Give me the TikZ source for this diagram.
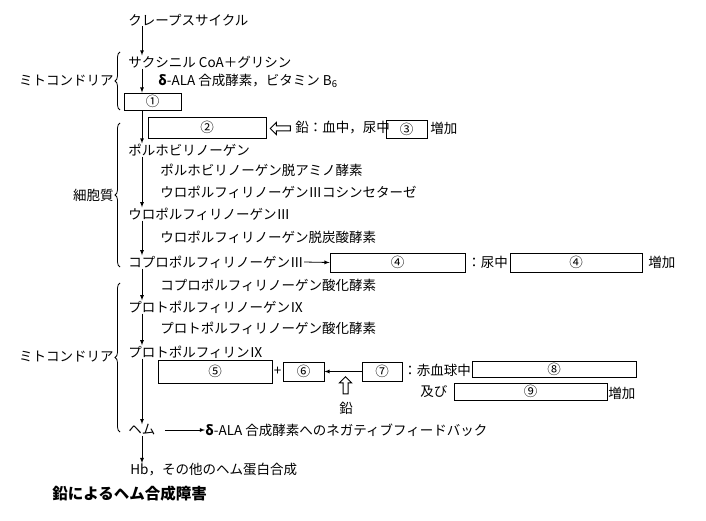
\documentclass[tikz,border=0pt]{standalone}
\usepackage{fontspec}
\setmainfont{Noto Sans CJK JP}
\usepackage{tikz}
\usetikzlibrary{shapes.arrows}
\usetikzlibrary{decorations.pathreplacing}

\begin{document}
\begin{tikzpicture}[x=1pt, y=-1pt, >=latex, line width=0.8pt,
      font=\fontsize{13.5}{16}\selectfont,
      txt/.style={anchor=west, inner sep=0},
      blank/.style={draw, rectangle, inner sep=0},
      region/.style={decorate, decoration={brace, amplitude=5pt}},
      hollow/.style={draw, single arrow, inner sep=2pt, line width=1pt, minimum width=11,
        single arrow head extend=3.5pt, single arrow head indent=0pt}
    ]
    \useasboundingbox (0,0) rectangle (706,521);
    \coordinate (spine) at (142,0);

    \node[txt] (kreb) at (128,20) {クレープスサイクル};
    \node[txt] (succ) at (128,62) {サクシニル CoA＋グリシン};
    \node[txt] (alas) at (158,81) {{\bfseries δ}-ALA 合成酵素，ビタミン B\textsubscript{6}};
    \node[blank, minimum width=57, minimum height=17] (b1) at (152.5,101.5) {①};

    \node[blank, minimum width=118, minimum height=21] (b2) at (207,127.5) {②};
    \node[hollow, shape border rotate=180, minimum height=20] (pb1) at (281.5,128.5) {};
    \node[txt] (lead1) at (295,128) {鉛：血中，尿中};
    \node[blank, minimum width=41, minimum height=18] (b3) at (406.5,129) {③};
    \node[txt] (inc1) at (430,128) {増加};

    \node[txt] (pbg) at (128,150) {ポルホビリノーゲン};
    \node[txt] (pbgd) at (160,170) {ポルホビリノーゲン脱アミノ酵素};
    \node[txt] (uros) at (160,192) {ウロポルフィリノーゲンⅢコシンセターゼ};
    \node[txt] (uro) at (128,214) {ウロポルフィリノーゲンⅢ};
    \node[txt] (urod) at (160,237) {ウロポルフィリノーゲン脱炭酸酵素};
    \node[txt] (copro) at (128,262) {コプロポルフィリノーゲンⅢ};
    \node[blank, minimum width=135, minimum height=19] (b4a) at (397.5,262.5) {④};
    \node[txt] (urine) at (467,262) {：尿中};
    \node[blank, minimum width=132, minimum height=19] (b4b) at (576,262.5) {④};
    \node[txt] (inc2) at (648,262) {増加};

    \node[txt] (cpox) at (160,285) {コプロポルフィリノーゲン酸化酵素};
    \node[txt] (proto) at (128,307) {プロトポルフィリノーゲンⅨ};
    \node[txt] (ppox) at (160,328) {プロトポルフィリノーゲン酸化酵素};
    \node[txt] (pp) at (128,352) {プロトポルフィリンⅨ};
    \node[blank, minimum width=114, minimum height=23] (b5) at (215,371.5) {⑤};
    \node (plus) at (277.5,371) {+};
    \node[blank, minimum width=41, minimum height=19] (b6) at (303.5,371.5) {⑥};
    \node[blank, minimum width=40, minimum height=19] (b7) at (382,371.5) {⑦};
    \node[hollow, shape border rotate=90, minimum height=17] (pb2) at (345.5,386.5) {};
    \node (lead2) at (346,408) {鉛};
    \node[txt] (rbc) at (403,370) {：赤血球中};
    \node[blank, minimum width=164, minimum height=16] (b8) at (554,369) {⑧};
    \node[txt] (and) at (420,392) {及び};
    \node[blank, minimum width=153, minimum height=17] (b9) at (530.5,391.5) {⑨};
    \node[txt] (inc3) at (608,393) {増加};

    \node[txt] (heme) at (128,430) {ヘム};
    \node[txt] (fb) at (205,430) {{\bfseries δ}-ALA 合成酵素へのネガティブフィードバック};
    \node[txt] (hb) at (130,470) {Hb，その他のヘム蛋白合成};
    \node[txt, font=\fontsize{15.5}{18}\selectfont\bfseries] (title) at (52,494) {鉛によるヘム合成障害};

    % main pathway
    \draw[->] (kreb.south -| spine) -- (succ.north -| spine);
    \draw[->] (succ.south -| spine) -- (b1.north -| spine);
    \draw[->] (b1.south -| spine) -- (pbg.north -| spine);
    \draw[->] (pbg.south -| spine) -- (uro.north -| spine);
    \draw[->] (uro.south -| spine) -- (copro.north -| spine);
    \draw[->] (copro.south -| spine) -- (proto.north -| spine);
    \draw[->] (proto.south -| spine) -- (pp.north -| spine);
    \draw[->] (pp.south -| spine) -- (heme.north -| spine);
    \draw[->] (heme.south -| spine) -- (hb.north -| spine);

    \draw[->] (copro.east) -- (b4a.west);
    \draw[->] (b7.west) -- (b6.east);
    \draw[->, shorten <=9pt] (heme.east) -- (fb.west);

    % compartments
    \draw[region] (120,110) -- (120,52);
    \node[anchor=east, inner sep=0] (mito1) at (114,81) {ミトコンドリア};
    \draw[region] (120,267) -- (120,123);
    \node[anchor=east, inner sep=0] (cyto) at (114,195) {細胞質};
    \draw[region] (120,432) -- (120,283);
    \node[anchor=east, inner sep=0] (mito2) at (114,357) {ミトコンドリア};
  \end{tikzpicture}
\end{document}
